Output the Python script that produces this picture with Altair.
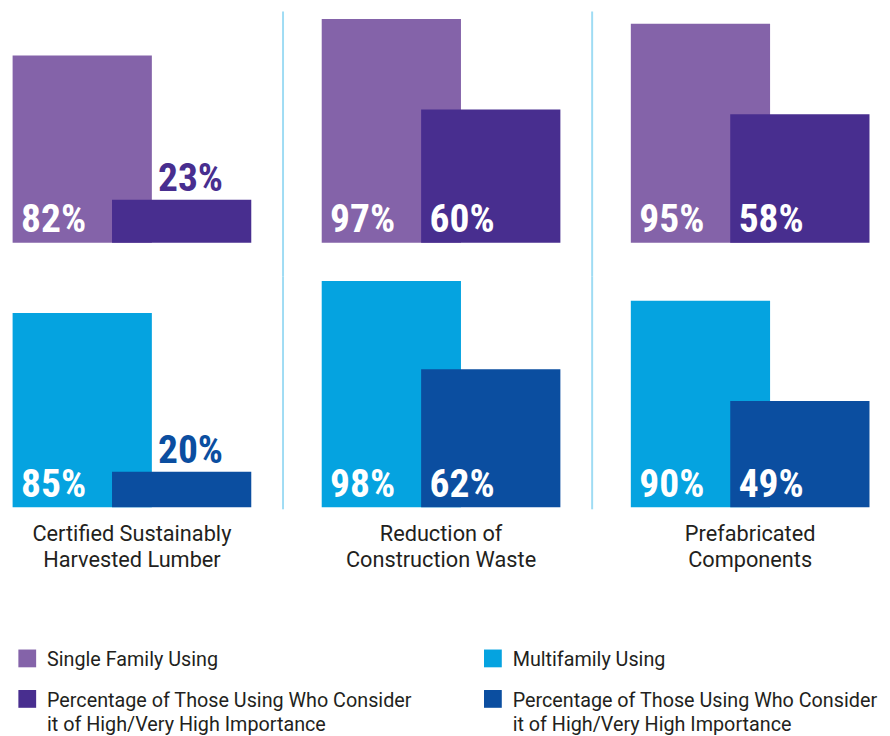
import altair as alt
import pandas as pd

# ---- data ----
categories = ["Certified Sustainably\nHarvested Lumber",
              "Reduction of\nConstruction Waste",
              "Prefabricated\nComponents"]
segments = ["Single Family", "Multifamily"]
single_using = [82, 97, 95]
single_important = [23, 60, 58]
multi_using = [85, 98, 90]
multi_important = [20, 62, 49]

color_keys = ["sf_using", "sf_important", "mf_using", "mf_important"]
color_values = ["#8463A9", "#482E8F", "#05A3E0", "#0B4EA0"]

legend_labels = ["Single Family Using",
                 "Percentage of Those Using Who Consider\nit of High/Very High Importance",
                 "Multifamily Using",
                 "Percentage of Those Using Who Consider\nit of High/Very High Importance"]
legend_col = [0, 0, 1, 1]
legend_row = [0, 1, 0, 1]

rows = []
for i, cat in enumerate(categories):
    for seg, using, imp, ku, ki in [
        ("Single Family", single_using, single_important, "sf_using", "sf_important"),
        ("Multifamily", multi_using, multi_important, "mf_using", "mf_important"),
    ]:
        rows.append(dict(category=cat, col=i, segment=seg, kind="using",
                         value=using[i], key=ku, label=f"{using[i]}%"))
        rows.append(dict(category=cat, col=i, segment=seg, kind="important",
                         value=imp[i], key=ki, label=f"{imp[i]}%"))
df = pd.DataFrame(rows)

W, H = 241, 234
Y_MIN = 5.5
ROW_GAP = 34
PCT_FONT = "Liberation Sans Narrow, Roboto Condensed, DejaVu Sans Condensed, sans-serif"
TXT_FONT = "Roboto"
TXT_COLOR = "#231F20"
DIV_COLOR = "#9FDCF4"

color_scale = alt.Scale(domain=color_keys, range=color_values)

x_enc = alt.X("kind:N", sort=["using", "important"],
              scale=alt.Scale(domain=["using", "important"], paddingInner=0, paddingOuter=0.197),
              axis=None)
y_enc = alt.Y("value:Q", scale=alt.Scale(domain=[Y_MIN, 100], zero=False), axis=None)

bars = alt.Chart().mark_bar(width=141).encode(
    x=x_enc, y=y_enc, y2=alt.datum(Y_MIN),
    color=alt.Color("key:N", scale=color_scale, legend=None),
)

inside = alt.Chart().transform_filter("datum.value >= 30").mark_text(
    align="left", baseline="alphabetic", dx=-62, dy=-10.5,
    font=PCT_FONT, fontSize=40, fontWeight="bold", color="white",
).encode(x=x_enc, y=alt.value(H), text="label:N")

outside = alt.Chart().transform_filter("datum.value < 30").mark_text(
    align="left", baseline="alphabetic", dx=-24, dy=-8.5,
    font=PCT_FONT, fontSize=40, fontWeight="bold",
).encode(x=x_enc, y=y_enc, text="label:N",
         color=alt.Color("key:N", scale=color_scale, legend=None))

div_top = alt.Chart().transform_filter(
    "datum.col < 2 && datum.kind == 'using' && datum.segment == 'Single Family'"
).mark_rule(color=DIV_COLOR, strokeWidth=2).encode(
    x=alt.value(273.5), y=alt.value(0), y2=alt.value(H + ROW_GAP))

div_bottom = alt.Chart().transform_filter(
    "datum.col < 2 && datum.kind == 'using' && datum.segment == 'Multifamily'"
).mark_rule(color=DIV_COLOR, strokeWidth=2).encode(
    x=alt.value(273.5), y=alt.value(0), y2=alt.value(H + 2))

cat_labels = alt.Chart().transform_filter(
    "datum.kind == 'using' && datum.segment == 'Multifamily'"
).mark_text(
    align="center", baseline="alphabetic", lineBreak="\n", lineHeight=26,
    font=TXT_FONT, fontSize=22, color=TXT_COLOR,
).encode(x=alt.value(W / 2), y=alt.value(268), text="category:N")

panels = alt.layer(bars, inside, outside, div_top, div_bottom, cat_labels, data=df).properties(
    width=W, height=H
).facet(
    column=alt.Column("category:N", sort=categories, header=alt.Header(labels=False), title=None),
    row=alt.Row("segment:N", sort=segments, header=alt.Header(labels=False), title=None),
    spacing={"row": ROW_GAP, "column": 72},
    bounds="flush",
)

# ---- legend ----
ldf = pd.DataFrame(dict(key=color_keys, label=legend_labels, col=legend_col, row=legend_row))
lx = alt.X("col:Q", scale=alt.Scale(domain=[0, 1], range=[14.5, 486]), axis=None)
ly = alt.Y("row:Q", scale=alt.Scale(domain=[0, 1], range=[16, 57]), axis=None)

lsq = alt.Chart(ldf).mark_square(size=324, opacity=1, filled=True).encode(
    x=lx, y=ly, color=alt.Color("key:N", scale=color_scale, legend=None))
ltx = alt.Chart(ldf).mark_text(
    align="left", baseline="alphabetic", dx=20, dy=8, lineBreak="\n", lineHeight=25,
    font=TXT_FONT, fontSize=20, color=TXT_COLOR,
).encode(x=lx, y=ly, text="label:N")
legend = alt.layer(lsq, ltx).properties(width=870, height=80)

chart = alt.vconcat(panels, legend, spacing=73).properties(
    padding={"left": 4, "top": -2, "right": 4, "bottom": 0}
).configure_view(stroke=None)

chart.save("out.html", embed_options={"renderer": "svg", "actions": False})
